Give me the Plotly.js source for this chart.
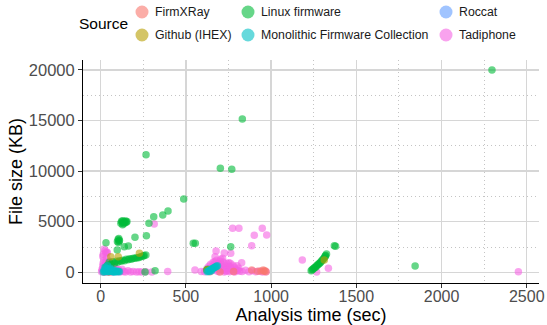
<!DOCTYPE html>
<html>
<head>
<meta charset="utf-8">
<script src="https://cdn.plot.ly/plotly-3.0.1.min.js"></script>
<style>html,body{margin:0;padding:0;background:#fff;}#chart{width:547px;height:325px;}</style>
</head>
<body>
<div id="chart"></div>
<script>
// Source names (legend order) and colours
const sources = ["FirmXRay", "Github (IHEX)", "Linux firmware", "Monolithic Firmware Collection", "Roccat", "Tadiphone"];
const colors = ["#F8766D", "#B79F00", "#00BA38", "#00BFC4", "#619CFF", "#F564E3"];

// Axis ticks
const xTicks = [0, 500, 1000, 1500, 2000, 2500];
const yTicks = [0, 5000, 10000, 15000, 20000];

// FirmXRay
const firmxrayTime = [20, 55, 640, 700, 780, 886, 920, 941, 954, 958, 964, 970];
const firmxraySize = [30, 40, 60, 40, 80, 230, 100, 130, 230, 100, 160, 60];

// Github (IHEX)
const githubTime = [30, 59, 103, 227, 45, 640, 625, 1312];
const githubSize = [120, 1540, 1540, 1880, 60, 220, 260, 1215];

// Linux firmware
const linuxTime = [2296, 831, 266, 702, 769, 487, 395, 364, 311, 283, 543, 555, 763, 1845, 1371, 1378,
  118, 122, 126, 130, 134, 138, 142, 146, 150, 154, 128,
  98, 102, 106, 110, 104, 108,
  201, 268, 31, 138, 162, 97,
  30, 40, 50, 60, 70, 80, 90, 100, 110, 120, 130, 140, 150, 160, 170, 180, 190, 200, 210, 220, 230, 240, 250, 255, 265, 45, 55, 35,
  260, 319, 622, 628,
  1235, 1240, 1245, 1250, 1255, 1260, 1265, 1270, 1275, 1280, 1285, 1290, 1295, 1300, 1305, 1310, 1315, 1318, 1320, 1325];
const linuxSize = [19990, 15150, 11620, 10280, 10180, 7240, 6060, 5660, 5500, 4840, 2860, 2870, 2530, 620, 2630, 2580,
  4850, 5050, 4950, 5100, 4800, 5000, 4900, 5080, 4950, 5020, 4700,
  3050, 3250, 3350, 3150, 2950, 3100,
  3460, 3620, 2930, 2530, 2600, 2200,
  500, 700, 1000, 800, 1050, 900, 1100, 1000, 1150, 1100, 1200, 1150, 1300, 1250, 1350, 1300, 1400, 1400, 1450, 1450, 1500, 1550, 1600, 1650, 1700, 350, 200, 250,
  20, 160, 230, 300,
  150, 250, 300, 400, 450, 500, 600, 700, 750, 850, 900, 1000, 1100, 1200, 1300, 1400, 1500, 1600, 1650, 1800];

// Monolithic Firmware Collection
const monoTime = [20, 25, 30, 35, 40, 45, 50, 55, 60, 65, 70, 75, 80, 85, 90, 95, 100, 105, 110, 40, 50, 60, 30, 20, 45, 70, 80, 35, 15, 25, 40, 55,
  625, 630, 635, 640, 645, 650, 655, 660, 665, 670, 675, 680, 685, 640, 650];
const monoSize = [50, 100, 150, 200, 250, 300, 200, 150, 100, 80, 120, 60, 100, 150, 80, 60, 100, 80, 50, 50, 80, 250, 300, 200, 120, 200, 40, 350, 30, 500, 650, 400,
  50, 100, 150, 200, 250, 300, 350, 400, 450, 500, 550, 600, 650, 80, 150];

// Roccat
const roccatTime = [30, 50, 75];
const roccatSize = [80, 120, 60];

// Tadiphone
const tadiTime = [5, 8, 10, 12, 14, 15, 18, 20, 22, 24, 25, 27, 28, 30, 32, 34, 35, 36, 38, 40, 42, 44, 45, 48, 50, 52, 55, 58, 60, 62, 65, 68, 70, 72, 75, 80, 85, 90, 95, 100, 105, 110, 118, 125, 135, 145, 160, 175, 190, 210, 225, 240, 265, 300, 393,
  20, 25, 15, 39, 30, 12, 35, 314,
  625, 635, 640, 645, 650, 655, 660, 665, 670, 675, 680, 685, 690, 695, 700, 705, 710, 715, 720, 725, 730, 735, 740, 745, 750, 755, 760, 765, 770, 775, 780, 785, 790, 795, 800, 805, 810, 815,
  700, 690, 710, 730, 750, 720, 760, 680, 700, 740, 660, 670, 715, 695, 725, 755, 785,
  671, 677, 725, 763, 827, 886, 901, 974, 774, 811, 948,
  553, 590, 610, 830, 850, 870, 890, 910, 930, 950, 970,
  1183, 1267, 1336, 2451];
const tadiSize = [50, 300, 150, 600, 900, 80, 400, 1200, 250, 700, 30, 500, 1000, 200, 800, 350, 1400, 100, 550, 950, 300, 650, 20, 450, 1100, 200, 700, 100, 400, 850, 250, 60, 500, 150, 300, 600, 100, 350, 200, 50, 250, 120, 60, 300, 80, 40, 150, 30, 80, 20, 60, 30, 50, 40, 70,
  2300, 2100, 1780, 1940, 1900, 1550, 2000, 4770,
  400, 600, 300, 800, 150, 500, 1000, 250, 700, 400, 1200, 100, 900, 550, 300, 1300, 750, 200, 1000, 450, 650, 100, 850, 350, 600, 150, 900, 400, 250, 700, 100, 500, 300, 150, 650, 200, 400, 100,
  1100, 600, 500, 350, 950, 200, 550, 450, 700, 200, 650, 1050, 1400, 50, 30, 60, 40,
  1540, 2100, 1900, 1880, 950, 2630, 3660, 3690, 4350, 4350, 4350,
  230, 80, 50, 80, 200, 60, 150, 50, 100, 40, 60,
  1215, 30, 395, 60];

const FONT = "Liberation Sans, Arial, Helvetica, sans-serif";

function mk(i, xs, ys) {
  return {
    type: "scatter", mode: "markers", name: sources[i], x: xs, y: ys,
    showlegend: false,
    marker: {color: colors[i], size: 7.5, opacity: 0.6, line: {width: 0}},
    hoverinfo: "skip"
  };
}

// drawing order: Tadiphone under, cyan on top
const traces = [
  mk(5, tadiTime, tadiSize),
  mk(0, firmxrayTime, firmxraySize),
  mk(2, linuxTime, linuxSize),
  mk(1, githubTime, githubSize),
  mk(4, roccatTime, roccatSize),
  mk(3, monoTime, monoSize)
];

const L = 83, R = 8, T = 60, B = 42, W = 547, H = 325;
const pw = W - L - R, ph = H - T - B;
const px2x = p => (p - L) / pw;
const py2y = p => (H - B - p) / ph;

// legend key: 3 columns x 2 rows, column-major
const keyCols = [142, 142, 248, 248, 446, 446];
const keyRows = [12, 35, 12, 35, 12, 35];
const shapes = [];
const annotations = [{
  text: "Source", xref: "paper", yref: "paper", x: px2x(103), y: py2y(24),
  xanchor: "center", yanchor: "middle", showarrow: false,
  font: {family: FONT, size: 15.5, color: "#000"}
}];
sources.forEach((s, i) => {
  const cx = keyCols[i], cy = keyRows[i], r = 6.5;
  shapes.push({
    type: "circle", xref: "paper", yref: "paper", layer: "above",
    x0: px2x(cx - r), x1: px2x(cx + r), y0: py2y(cy + r), y1: py2y(cy - r),
    fillcolor: colors[i], opacity: 0.6, line: {width: 0}
  });
  annotations.push({
    text: s, xref: "paper", yref: "paper", x: px2x(cx + 11), y: py2y(cy),
    xanchor: "left", yanchor: "middle", showarrow: false,
    font: {family: FONT, size: 12.3, color: "#1a1a1a"}
  });
});

const gridCol = "#d6d6d6";
const minorGrid = {showgrid: true, gridcolor: "#c4c4c4", griddash: "1px,3px", gridwidth: 1, ticks: ""};
const layout = {
  width: W, height: H,
  margin: {l: L, r: R, t: T, b: B, pad: 0},
  paper_bgcolor: "#ffffff", plot_bgcolor: "#ffffff",
  font: {family: FONT},
  showlegend: false,
  shapes: shapes,
  annotations: annotations,
  xaxis: {
    range: [-104, 2572], tickvals: xTicks, ticktext: xTicks.map(String),
    showgrid: true, gridcolor: gridCol, gridwidth: 1.4, zeroline: false,
    showline: true, linecolor: "#000", linewidth: 1,
    ticks: "outside", ticklen: 4, tickcolor: "#333", tickwidth: 1,
    ticklabelstandoff: -5,
    tickfont: {family: FONT, size: 16, color: "#4d4d4d"},
    minor: Object.assign({dtick: 250, tick0: 0}, minorGrid),
    title: {text: "Analysis time (sec)", font: {family: FONT, size: 18, color: "#000"}, standoff: 6},
    automargin: false, fixedrange: true
  },
  yaxis: {
    range: [-1057, 20978], tickvals: yTicks, ticktext: yTicks.map(String),
    showgrid: true, gridcolor: gridCol, gridwidth: 1.4, zeroline: false,
    showline: true, linecolor: "#000", linewidth: 1,
    ticks: "outside", ticklen: 4, tickcolor: "#333", tickwidth: 1,
    tickfont: {family: FONT, size: 16.5, color: "#4d4d4d"},
    minor: Object.assign({dtick: 2500, tick0: 0}, minorGrid),
    title: {text: "File size (KB)", font: {family: FONT, size: 18, color: "#000"}, standoff: 1},
    automargin: false, fixedrange: true
  }
};

Plotly.newPlot("chart", traces, layout, {staticPlot: true, displayModeBar: false});
</script>
</body>
</html>
